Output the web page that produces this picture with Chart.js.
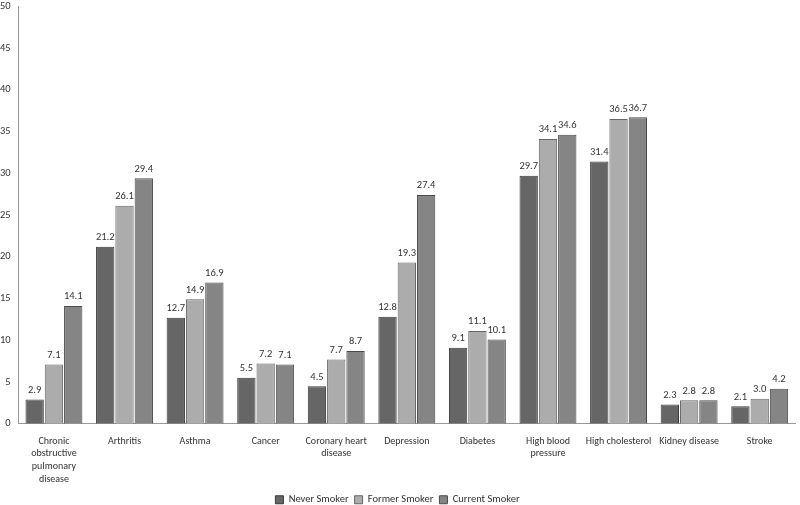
<!DOCTYPE html>
<html>
<head>
<meta charset="utf-8">
<script src="https://cdn.jsdelivr.net/npm/chart.js@4/dist/chart.umd.min.js"></script>
<style>
  html, body { margin: 0; padding: 0; background: #fff; }
  #wrap { width: 800px; height: 505px; }
</style>
</head>
<body>
<div id="wrap"><canvas id="grafica" width="800" height="505"></canvas></div>
<script>
const categorias = [
  ["Chronic", "obstructive", "pulmonary", "disease"],
  "Arthritis",
  "Asthma",
  "Cancer",
  ["Coronary heart", "disease"],
  "Depression",
  "Diabetes",
  ["High blood", "pressure"],
  "High cholesterol",
  "Kidney disease",
  "Stroke"
];
const nuncaFumo = [2.9, 21.2, 12.7, 5.5, 4.5, 12.8, 9.1, 29.7, 31.4, 2.3, 2.1];
const exFumador = [7.1, 26.1, 14.9, 7.2, 7.7, 19.3, 11.1, 34.1, 36.5, 2.8, 3.0];
const fumadorActual = [14.1, 29.4, 16.9, 7.1, 8.7, 27.4, 10.1, 34.6, 36.7, 2.8, 4.2];
const series = ["Never Smoker", "Former Smoker", "Current Smoker"];

const fuente = "Carlito, Lato, 'Open Sans', sans-serif";

// draw the value above every bar
const etiquetas = {
  id: "etiquetas",
  afterDatasetsDraw(chart) {
    const ctx = chart.ctx;
    ctx.save();
    ctx.font = "10.5px " + fuente;
    ctx.fillStyle = "#333";
    ctx.textAlign = "center";
    ctx.textBaseline = "bottom";
    chart.data.datasets.forEach((ds, i) => {
      chart.getDatasetMeta(i).data.forEach((bar, j) => {
        ctx.fillText(ds.data[j].toFixed(1), bar.x, bar.y - 4);
      });
    });
    ctx.restore();
  }
};

// legend takes less vertical room
const leyendaCorta = {
  id: "leyendaCorta",
  beforeInit(chart) {
    const fit = chart.legend.fit;
    chart.legend.fit = function () {
      fit.bind(chart.legend)();
      this.height -= 10;
    };
  }
};

const ctx = document.getElementById("grafica").getContext("2d");
new Chart(ctx, {
  type: "bar",
  data: {
    labels: categorias,
    datasets: [
      { label: series[0], data: nuncaFumo, backgroundColor: "#666666", borderColor: "#3a3a3a", borderWidth: 1 },
      { label: series[1], data: exFumador, backgroundColor: "#acacac", borderColor: "#666666", borderWidth: 1 },
      { label: series[2], data: fumadorActual, backgroundColor: "#858585", borderColor: "#4a4a4a", borderWidth: 1 }
    ]
  },
  options: {
    responsive: false,
    animation: false,
    layout: { padding: { left: 0, right: 5, top: 0, bottom: 0 } },
    datasets: { bar: { categoryPercentage: 0.82, barPercentage: 0.95 } },
    scales: {
      x: {
        grid: { display: false },
        border: { display: true, color: "#999" },
        ticks: { color: "#333", font: { family: fuente, size: 10, lineHeight: 1.27 }, maxRotation: 0, autoSkip: false, padding: 3 }
      },
      y: {
        min: 0, max: 50,
        grid: { display: false },
        border: { display: true, color: "#999" },
        ticks: { stepSize: 5, color: "#333", font: { family: fuente, size: 10.5 }, padding: 0 }
      }
    },
    plugins: {
      legend: {
        position: "bottom",
        labels: { boxWidth: 8, boxHeight: 8, color: "#333", font: { family: fuente, size: 10.5 }, padding: 6 }
      },
      tooltip: { enabled: false }
    }
  },
  plugins: [etiquetas, leyendaCorta]
});
</script>
</body>
</html>
